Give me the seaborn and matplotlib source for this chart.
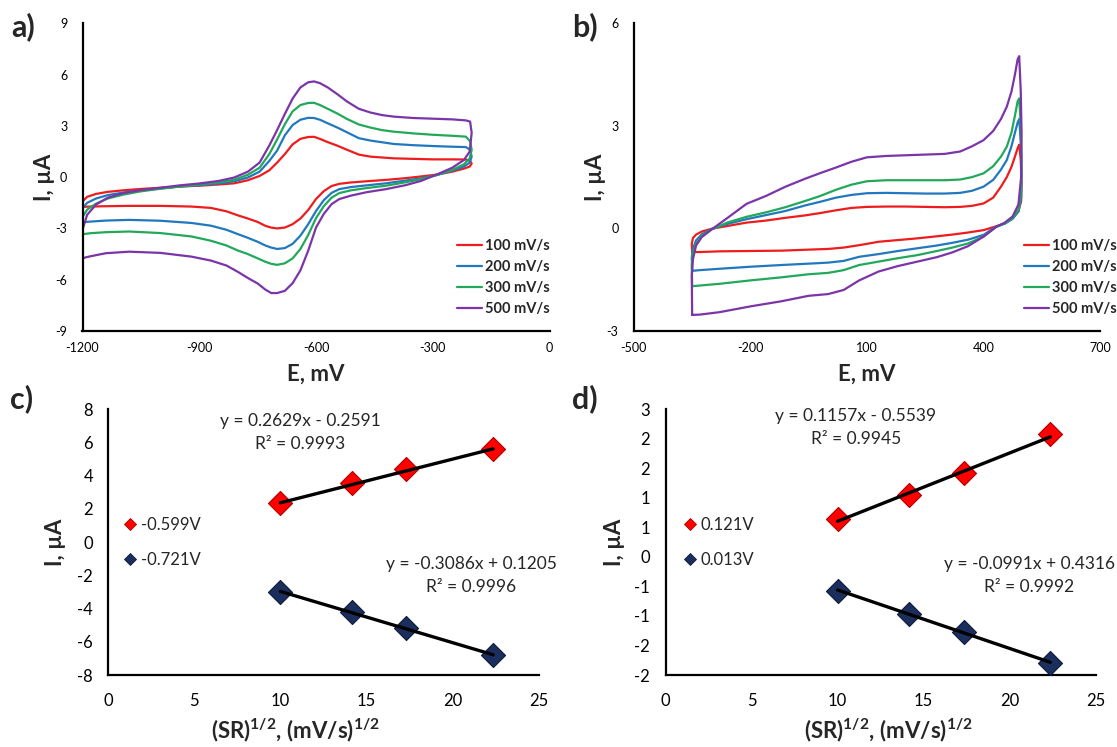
import matplotlib
matplotlib.use("Agg")
import matplotlib.pyplot as plt
from matplotlib.lines import Line2D
import numpy as np
import pandas as pd
import seaborn as sns

# ---------------------------------------------------------------------------
# Data
# ---------------------------------------------------------------------------
RATES = ["100 mV/s", "200 mV/s", "300 mV/s", "500 mV/s"]
RATE_COLORS = ["#EE1C1C", "#2278BE", "#22A85A", "#7B35A8"]

# (a) CV of the redox couple, potential in mV, current in uA
A_FWD_E = [-1200, -1199, -1188, -1165, -1135, -1095, -1050, -1000, -950, -900,
           -850, -810, -775, -745, -720, -700, -680, -660, -640, -620,
           -605, -590, -570, -545, -520, -490, -460, -430, -400, -350,
           -300, -250, -215, -204, -200]
A_FWD_100 = [-1.74, -1.40, -1.15, -0.98, -0.86, -0.77, -0.69, -0.62, -0.55, -0.50,
             -0.43, -0.36, -0.18, 0.07, 0.40, 0.85, 1.35, 1.92, 2.24, 2.35,
             2.36, 2.24, 2.05, 1.84, 1.60, 1.32, 1.20, 1.15, 1.10, 1.07,
             1.04, 1.04, 1.03, 0.95, 0.80]
A_FWD_200 = [-2.64, -1.80, -1.50, -1.25, -1.05, -0.90, -0.77, -0.66, -0.55, -0.47,
             -0.37, -0.24, -0.02, 0.32, 0.95, 1.55, 2.45, 3.05, 3.36, 3.47,
             3.46, 3.36, 3.15, 2.90, 2.62, 2.28, 2.14, 2.04, 1.94, 1.87,
             1.82, 1.78, 1.76, 1.60, 1.20]
A_FWD_300 = [-3.34, -2.30, -1.90, -1.55, -1.25, -1.02, -0.83, -0.68, -0.55, -0.43,
             -0.30, -0.15, 0.14, 0.55, 1.35, 2.20, 3.10, 3.85, 4.22, 4.34,
             4.35, 4.22, 4.00, 3.72, 3.40, 3.08, 2.90, 2.75, 2.66, 2.56,
             2.48, 2.42, 2.37, 2.10, 1.60]
A_FWD_500 = [-4.74, -3.00, -2.20, -1.60, -1.20, -0.93, -0.76, -0.62, -0.48, -0.37,
             -0.22, -0.02, 0.32, 0.85, 1.85, 2.75, 3.70, 4.60, 5.25, 5.55,
             5.60, 5.50, 5.25, 4.85, 4.42, 4.00, 3.78, 3.63, 3.54, 3.46,
             3.42, 3.38, 3.32, 3.25, 2.60]

A_REV_E = [-205, -220, -250, -290, -330, -370, -420, -470, -510, -540,
           -560, -580, -600, -620, -640, -660, -680, -700, -715, -730,
           -750, -775, -800, -830, -870, -920, -1000, -1080, -1140, -1180,
           -1200]
A_REV_100 = [0.62, 0.50, 0.32, 0.15, 0.04, -0.06, -0.16, -0.24, -0.31, -0.39,
             -0.52, -0.82, -1.28, -1.92, -2.42, -2.75, -2.95, -3.00, -2.95, -2.85,
             -2.62, -2.42, -2.24, -2.00, -1.80, -1.72, -1.68, -1.68, -1.70, -1.72,
             -1.74]
A_REV_200 = [0.85, 0.62, 0.38, 0.12, -0.07, -0.20, -0.36, -0.48, -0.58, -0.70,
             -0.92, -1.35, -1.98, -2.75, -3.42, -3.90, -4.15, -4.20, -4.12, -4.00,
             -3.78, -3.55, -3.34, -3.08, -2.84, -2.68, -2.55, -2.50, -2.54, -2.60,
             -2.64]
A_REV_300 = [1.10, 0.75, 0.42, 0.12, -0.12, -0.30, -0.50, -0.64, -0.77, -0.93,
             -1.20, -1.70, -2.40, -3.38, -4.20, -4.75, -5.04, -5.13, -5.07, -4.95,
             -4.75, -4.50, -4.30, -4.00, -3.72, -3.47, -3.27, -3.18, -3.22, -3.28,
             -3.34]
A_REV_500 = [1.50, 1.00, 0.55, 0.15, -0.22, -0.47, -0.70, -0.88, -1.08, -1.28,
             -1.58, -2.15, -2.95, -4.30, -5.45, -6.20, -6.65, -6.78, -6.78, -6.58,
             -6.22, -5.90, -5.55, -5.17, -4.88, -4.65, -4.43, -4.36, -4.45, -4.63,
             -4.74]

# (b) CV of the second electrode
B_FWD_E = [-350, -351, -348, -340, -325, -300, -260, -210, -160, -110,
           -60, -20, 20, 60, 100, 150, 200, 250, 300, 340,
           370, 400, 425, 445, 460, 472, 481, 488, 492]
B_FWD_100 = [-0.69, -0.45, -0.28, -0.18, -0.09, -0.01, 0.07, 0.17, 0.23, 0.31,
             0.38, 0.45, 0.53, 0.60, 0.63, 0.64, 0.64, 0.63, 0.62, 0.63,
             0.66, 0.73, 0.90, 1.22, 1.50, 1.80, 2.10, 2.35, 2.45]
B_FWD_200 = [-1.24, -0.85, -0.60, -0.35, -0.17, -0.02, 0.13, 0.27, 0.39, 0.51,
             0.67, 0.78, 0.90, 0.98, 1.03, 1.04, 1.03, 1.02, 1.02, 1.04,
             1.10, 1.22, 1.42, 1.72, 2.00, 2.40, 2.80, 3.10, 3.20]
B_FWD_300 = [-1.69, -1.10, -0.72, -0.45, -0.22, -0.03, 0.17, 0.34, 0.47, 0.62,
             0.80, 0.95, 1.13, 1.28, 1.38, 1.41, 1.41, 1.41, 1.41, 1.43,
             1.50, 1.61, 1.82, 2.10, 2.39, 2.80, 3.30, 3.72, 3.80]
B_FWD_500 = [-2.53, -1.40, -0.90, -0.50, -0.25, -0.03, 0.30, 0.72, 0.95, 1.22,
             1.45, 1.62, 1.78, 1.95, 2.08, 2.12, 2.14, 2.16, 2.18, 2.25,
             2.40, 2.58, 2.85, 3.20, 3.56, 4.00, 4.50, 4.95, 5.04]

B_REV_E = [496, 498, 497, 490, 475, 455, 432, 400, 360, 320,
           280, 230, 180, 130, 80, 40, 0, -50, -120, -200,
           -280, -330, -350]
B_REV_100 = [2.00, 1.30, 0.80, 0.50, 0.30, 0.15, 0.06, -0.05, -0.12, -0.18,
             -0.23, -0.29, -0.34, -0.39, -0.49, -0.56, -0.60, -0.62, -0.65, -0.66,
             -0.67, -0.69, -0.69]
B_REV_200 = [2.50, 1.60, 0.90, 0.50, 0.28, 0.14, 0.05, -0.19, -0.33, -0.42,
             -0.50, -0.58, -0.66, -0.75, -0.83, -0.95, -1.00, -1.03, -1.07, -1.12,
             -1.18, -1.22, -1.24]
B_REV_300 = [3.00, 2.00, 1.10, 0.55, 0.30, 0.15, 0.04, -0.24, -0.44, -0.56,
             -0.66, -0.78, -0.87, -0.97, -1.07, -1.22, -1.30, -1.34, -1.43, -1.52,
             -1.62, -1.67, -1.69]
B_REV_500 = [4.00, 2.80, 1.50, 0.70, 0.35, 0.17, 0.04, -0.24, -0.52, -0.70,
             -0.84, -0.97, -1.10, -1.26, -1.52, -1.80, -1.92, -1.97, -2.13, -2.28,
             -2.45, -2.52, -2.53]

# (c), (d) peak current vs square root of scan rate
SR_SQRT = [10.0, 14.14, 17.32, 22.36]
C_LABELS = ["-0.599V", "-0.721V"]
C_ANODIC = [2.37, 3.54, 4.39, 5.61]
C_CATHODIC = [-2.99, -4.23, -5.19, -6.80]
C_FITS = [(0.2629, -0.2591, 0.9993), (-0.3086, 0.1205, 0.9996)]

D_LABELS = ["0.121V", "0.013V"]
D_ANODIC = [0.65, 1.05, 1.42, 2.08]
D_CATHODIC = [-0.57, -0.96, -1.27, -1.79]
D_FITS = [(0.1157, -0.5539, 0.9945), (-0.0991, 0.4316, 0.9992)]
D_YTICKS = [-2.0, -1.5, -1.0, -0.5, 0.0, 0.5, 1.0, 1.5, 2.0, 2.5]
D_YTICKLABELS = ["-2", "-2", "-1", "-1", "0", "1", "1", "2", "2", "3"]

MARKER_COLORS = ["#FF0000", "#1B2F5E"]
MARKER_EDGES = ["#B00000", "#0E1A38"]

# ---------------------------------------------------------------------------
# Style
# ---------------------------------------------------------------------------
sns.set_theme(style="white")
plt.rcParams["font.family"] = ["Lato", "DejaVu Sans"]
plt.rcParams["mathtext.fontset"] = "custom"
plt.rcParams["mathtext.rm"] = "Lato"
plt.rcParams["mathtext.bf"] = "Lato:bold"
plt.rcParams["axes.unicode_minus"] = False

W, H = 1117, 747
fig = plt.figure(figsize=(W / 100, H / 100), dpi=100)
fig.patch.set_facecolor("white")


def add_axes_px(left, top, right, bottom):
    return fig.add_axes([left / W, 1 - bottom / H, (right - left) / W, (bottom - top) / H])


def style_axes(ax, tick_size, pad_x, pad_y):
    for s in ("top", "right"):
        ax.spines[s].set_visible(False)
    for s in ("left", "bottom"):
        ax.spines[s].set_linewidth(1.6)
        ax.spines[s].set_color("black")
    ax.tick_params(axis="both", direction="out", length=5, width=1.4,
                   colors="black", labelsize=tick_size)
    ax.tick_params(axis="x", pad=pad_x)
    ax.tick_params(axis="y", pad=pad_y)
    ax.grid(False)
    ax.set_facecolor("white")


def cv_frame(fwd_e, rev_e, fwd_sets, rev_sets):
    parts = []
    for rate, fwd, rev in zip(RATES, fwd_sets, rev_sets):
        e = fwd_e + rev_e
        i = fwd + rev
        parts.append(pd.DataFrame({"E": e, "I": i, "rate": rate}))
    return pd.concat(parts, ignore_index=True)


def cv_panel(ax, df, xlim, xticks, ylim, yticks, legend_xy):
    sns.lineplot(data=df, x="E", y="I", hue="rate", hue_order=RATES,
                 palette=RATE_COLORS, sort=False, estimator=None,
                 linewidth=1.6, legend=False, ax=ax)
    ax.set_xlim(*xlim)
    ax.set_ylim(*ylim)
    ax.set_xticks(xticks)
    ax.set_yticks(yticks)
    style_axes(ax, 9, 3, 6)
    ax.set_xlabel("E, mV", fontsize=16, fontweight="bold")
    ax.set_ylabel("I, \u00b5A", fontsize=16, fontweight="bold")
    handles = [Line2D([0], [0], color=c, lw=1.6) for c in RATE_COLORS]
    fig.legend(handles, RATES, loc="upper left",
               bbox_to_anchor=(legend_xy[0] / W, 1 - legend_xy[1] / H),
               frameon=False, prop={"weight": "bold", "size": 10.5},
               handlelength=1.7, handletextpad=0.2, labelspacing=0.48,
               borderpad=0, borderaxespad=0)


def fit_panel(ax, anodic, cathodic, fits, labels, ylim, yticks, legend_xy, eq_pos):
    for vals, fc, ec in zip([anodic, cathodic], MARKER_COLORS, MARKER_EDGES):
        sns.scatterplot(x=SR_SQRT, y=vals, marker="D", s=150, color=fc,
                        edgecolor=ec, linewidth=0.8, zorder=3, ax=ax)
    for (slope, icpt, _r2) in fits:
        xs = np.array([min(SR_SQRT), max(SR_SQRT)])
        sns.lineplot(x=xs, y=slope * xs + icpt, color="black", linewidth=2.4,
                     zorder=4, ax=ax)
    ax.set_xlim(0, 25)
    ax.set_ylim(*ylim)
    ax.set_xticks([0, 5, 10, 15, 20, 25])
    ax.set_yticks(yticks)
    style_axes(ax, 12, 8, 6)
    ax.set_xlabel(r"(SR)$^{\mathbf{1/2}}$, (mV/s)$^{\mathbf{1/2}}$",
                  fontsize=16, fontweight="bold")
    ax.set_ylabel("I, \u00b5A", fontsize=16, fontweight="bold")
    handles = [Line2D([0], [0], marker="D", linestyle="none", markersize=6.5,
                      markerfacecolor=fc, markeredgecolor=ec, markeredgewidth=0.6)
               for fc, ec in zip(MARKER_COLORS, MARKER_EDGES)]
    fig.legend(handles, labels, loc="upper left",
               bbox_to_anchor=(legend_xy[0] / W, 1 - legend_xy[1] / H),
               frameon=False, fontsize=12, handlelength=0.7, handletextpad=0.3,
               labelspacing=1.15, borderpad=0, borderaxespad=0)
    for (slope, icpt, r2), (cx, cy) in zip(fits, eq_pos):
        sign = "-" if icpt < 0 else "+"
        fig.text(cx / W, 1 - cy / H, f"y = {slope:.4f}x {sign} {abs(icpt):.4f}",
                 ha="center", va="center", fontsize=12.5)
        fig.text(cx / W, 1 - (cy + 23) / H, f"R\u00b2 = {r2:.4f}",
                 ha="center", va="center", fontsize=12.5)


# ---------------------------------------------------------------------------
# Panels
# ---------------------------------------------------------------------------
ax_a = add_axes_px(82.5, 23.3, 549.5, 331)
ax_b = add_axes_px(633.9, 23.3, 1100, 331)
ax_c = add_axes_px(108.2, 409.3, 538.6, 675)
ax_d = add_axes_px(665.5, 409.3, 1095.7, 675)

df_a = cv_frame(A_FWD_E, A_REV_E,
                [A_FWD_100, A_FWD_200, A_FWD_300, A_FWD_500],
                [A_REV_100, A_REV_200, A_REV_300, A_REV_500])
cv_panel(ax_a, df_a, (-1200, 0), [-1200, -900, -600, -300, 0],
         (-9, 9), [-9, -6, -3, 0, 3, 6, 9], (457, 239))

df_b = cv_frame(B_FWD_E, B_REV_E,
                [B_FWD_100, B_FWD_200, B_FWD_300, B_FWD_500],
                [B_REV_100, B_REV_200, B_REV_300, B_REV_500])
cv_panel(ax_b, df_b, (-500, 700), [-500, -200, 100, 400, 700],
         (-3, 6), [-3, 0, 3, 6], (1024, 239))

fit_panel(ax_c, C_ANODIC, C_CATHODIC, C_FITS, C_LABELS, (-8, 8),
          [-8, -6, -4, -2, 0, 2, 4, 6, 8], (124, 517),
          [(300, 421), (471, 564)])
fit_panel(ax_d, D_ANODIC, D_CATHODIC, D_FITS, D_LABELS, (-2, 2.5),
          D_YTICKS, (684, 517), [(856, 416), (1029, 564)])
ax_d.set_yticklabels(D_YTICKLABELS)

# axis-label placement
ax_a.xaxis.set_label_coords(0.5, -0.105)
ax_b.xaxis.set_label_coords(0.5, -0.105)
ax_a.yaxis.set_label_coords(-0.058, 0.5)
ax_b.yaxis.set_label_coords(-0.060, 0.5)
ax_c.xaxis.set_label_coords(0.435, -0.155)
ax_d.xaxis.set_label_coords(0.519, -0.155)
ax_c.yaxis.set_label_coords(-0.098, 0.5)
ax_d.yaxis.set_label_coords(-0.093, 0.5)

# panel letters
for letter, (x, y) in zip(["a)", "b)", "c)", "d)"],
                          [(23, 27), (585, 27), (22, 399), (585, 399)]):
    fig.text(x / W, 1 - y / H, letter, ha="center", va="center",
             fontsize=22, fontweight="bold")

fig.savefig("out.png", dpi=100, facecolor="white")
